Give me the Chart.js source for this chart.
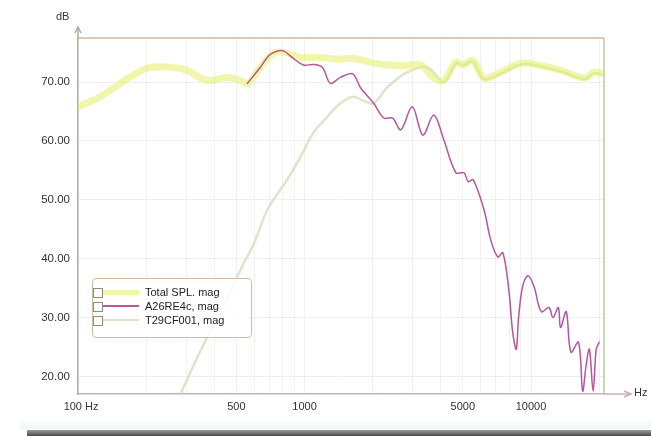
<!DOCTYPE html>
<html>
<head>
<meta charset="utf-8">
<script src="https://cdn.jsdelivr.net/npm/chart.js@4.4.1/dist/chart.umd.min.js"></script>
<style>
  body { margin: 0; background: #fff; }
  #wrap { position: relative; width: 651px; height: 436px; overflow: hidden; }
  #legend {
    position: absolute; left: 92px; top: 278px; width: 158px; height: 58px;
    border: 1px solid #cdbda6; border-radius: 4px; background: rgba(255,255,255,0.85);
    font: 11px "Liberation Sans", Arial, sans-serif; color: #222;
  }
  .item { position: absolute; left: 0; height: 14px; }
  .box { position: absolute; left: 0; top: 2px; width: 8px; height: 8px; border: 1px solid #9a8a7a; background: #fff; }
  .swatch { position: absolute; left: 10px; width: 36px; }
  .txt { position: absolute; left: 52px; top: 0; white-space: nowrap; }
  #scan1 { position: absolute; left: 20px; top: 420px; width: 631px; height: 9px; background: linear-gradient(#fafefe, #eef6f6); }
  #scan2 { position: absolute; left: 27px; top: 430px; width: 624px; height: 6px; background: linear-gradient(#9a9a9a, #4a4a4a); }
</style>
</head>
<body>
<div id="wrap">
  <canvas id="chart" width="651" height="436"></canvas>
  <div id="legend"></div>
  <div id="scan1"></div>
  <div id="scan2"></div>
</div>
<script>
'use strict';

// ── Data ─────────────────────────────────────────────────────────────────────
const seriesNames = ['Total SPL. mag', 'A26RE4c, mag', 'T29CF001, mag'];

const totalFreq = [100, 125, 150, 175, 208, 263, 303, 372, 456, 520, 565, 637, 730, 808, 960,
  1175, 1400, 1650, 2000, 2330, 2800, 3260, 3720, 4120, 4660, 5000, 5530, 6200, 7360, 9030,
  10700, 13580, 17180, 19000, 20500];
const totalDb = [65.8, 67.5, 69.5, 71.2, 72.5, 72.5, 72.0, 70.3, 70.8, 70.3, 69.8, 72.5, 74.9, 75.1, 74.2,
  74.2, 73.9, 74.0, 73.3, 72.9, 72.8, 72.9, 70.7, 70.3, 73.4, 72.9, 73.7, 70.7, 71.7, 73.2,
  72.9, 72.0, 70.7, 71.7, 71.5];

const wooferFreq = [560, 637, 700, 760, 808, 895, 990, 1095, 1200, 1300, 1440, 1630, 1770, 2020,
  2240, 2450, 2660, 2990, 3330, 3720, 4120, 4660, 5060, 5280, 5560, 6200, 6640, 7130, 7510, 7980,
  8300, 8610, 8800, 9180, 9700, 10300, 11100, 12000, 12500, 13200, 13500, 14300, 15000, 16200,
  16900, 17500, 18100, 18800, 19400, 20000];
const wooferDb = [69.8, 72.5, 74.6, 75.3, 75.3, 74.0, 72.9, 73.0, 72.5, 69.8, 70.8, 71.4, 69.0, 66.4,
  63.9, 63.9, 61.9, 65.8, 61.0, 64.4, 60.2, 54.6, 54.6, 53.1, 53.4, 48.3, 43.2, 40.3, 41.0, 34.7,
  27.5, 24.6, 29.7, 35.3, 37.1, 35.3, 31.0, 31.7, 30.0, 31.7, 28.3, 31.0, 24.1, 25.8,
  17.5, 21.8, 24.6, 17.5, 24.6, 25.8];

const tweeterFreq = [285, 340, 400, 455, 520, 600, 685, 760, 838, 960, 1095, 1260, 1440, 1640, 1830,
  2020, 2330, 2850, 3500, 4120, 4660, 5000, 5530, 6200, 7360, 9030, 10700, 13580, 17180, 19000, 20500];
const tweeterDb = [17.2, 23.6, 29.0, 33.0, 38.0, 42.7, 48.3, 51.0, 53.4, 57.3, 61.4, 64.1, 66.4, 67.5, 66.8,
  66.4, 69.2, 71.7, 72.5, 70.0, 73.2, 72.8, 73.5, 70.5, 71.5, 73.0, 72.8, 71.8, 70.5, 71.5, 71.3];

const xLabelTicks = [100, 500, 1000, 5000, 10000];
const xGridTicks = [100, 200, 300, 400, 500, 600, 700, 800, 900, 1000, 2000, 3000, 4000, 5000,
  6000, 7000, 8000, 9000, 10000, 20000];
const yTicks = [20, 30, 40, 50, 60, 70];

const seriesColors = ['rgba(228,240,105,0.55)', '#b9559c', 'rgba(208,218,180,0.7)'];
const seriesWidths = [7, 1.5, 2.5];

// ── Helpers ──────────────────────────────────────────────────────────────────
function toPoints(freqs, dbs) {
  return freqs.map((f, i) => ({ x: f, y: dbs[i] }));
}

function fmtDb(v) {
  return v.toFixed(2);
}

// frame, arrows and unit labels drawn around the plot area
const framePlugin = {
  id: 'frame',
  afterDraw(chart) {
    const { ctx, chartArea: a } = chart;
    ctx.save();
    ctx.lineWidth = 1.5;
    ctx.strokeStyle = '#cbb8a6';
    ctx.beginPath(); ctx.moveTo(a.left, a.top); ctx.lineTo(a.right, a.top); ctx.stroke();
    ctx.strokeStyle = '#b6cc9e';
    ctx.beginPath(); ctx.moveTo(a.right, a.top); ctx.lineTo(a.right, a.bottom); ctx.stroke();
    // x axis extension + arrow
    ctx.strokeStyle = '#c9afb0';
    ctx.beginPath(); ctx.moveTo(a.right, a.bottom); ctx.lineTo(a.right + 26, a.bottom); ctx.stroke();
    ctx.beginPath();
    ctx.moveTo(a.right + 20, a.bottom - 3); ctx.lineTo(a.right + 27, a.bottom); ctx.lineTo(a.right + 20, a.bottom + 3);
    ctx.stroke();
    // y axis extension + arrow
    ctx.strokeStyle = '#bfa993';
    ctx.beginPath(); ctx.moveTo(a.left, a.top); ctx.lineTo(a.left, a.top - 10); ctx.stroke();
    ctx.beginPath();
    ctx.moveTo(a.left - 3, a.top - 5); ctx.lineTo(a.left, a.top - 11); ctx.lineTo(a.left + 3, a.top - 5);
    ctx.stroke();
    ctx.fillStyle = '#333';
    ctx.font = '11px "Liberation Sans", Arial, sans-serif';
    ctx.textBaseline = 'middle';
    ctx.textAlign = 'left';
    ctx.fillText('dB', 56, 17);
    ctx.fillText('Hz', 634, a.bottom - 1);
    ctx.restore();
  },
};

// ── Chart setup ──────────────────────────────────────────────────────────────
const ctx = document.getElementById('chart').getContext('2d');

const datasets = [
  { freq: totalFreq, db: totalDb, order: 1 },
  { freq: wooferFreq, db: wooferDb, order: 0 },
  { freq: tweeterFreq, db: tweeterDb, order: 2 },
].map((s, i) => ({
  label: seriesNames[i],
  data: toPoints(s.freq, s.db),
  borderColor: seriesColors[i],
  borderWidth: seriesWidths[i],
  pointRadius: 0,
  tension: 0.35,
  fill: false,
  order: s.order,
  borderCapStyle: 'round',
  borderJoinStyle: 'round',
}));

new Chart(ctx, {
  type: 'line',
  data: { datasets },
  plugins: [framePlugin],
  options: {
    responsive: false,
    animation: false,
    layout: { padding: { left: 0, top: 38, right: 47, bottom: 0 } },
    plugins: { legend: { display: false }, tooltip: { enabled: false } },
    scales: {
      x: {
        type: 'logarithmic',
        min: 100,
        max: 21000,
        afterBuildTicks: axis => { axis.ticks = xGridTicks.map(v => ({ value: v })); },
        afterFit: axis => { axis.height = 42; },
        ticks: {
          autoSkip: false,
          maxRotation: 0,
          padding: 6,
          color: '#333',
          font: { size: 11, family: '"Liberation Sans", Arial, sans-serif' },
          callback: v => (xLabelTicks.includes(v) ? (v === 100 ? '  100 Hz' : String(v)) : ''),
        },
        grid: { color: '#f1f1ee', drawTicks: false },
        border: { color: '#c9afb0', width: 1.5 },
      },
      y: {
        min: 17,
        max: 77.5,
        afterBuildTicks: axis => { axis.ticks = yTicks.map(v => ({ value: v })); },
        afterFit: axis => { axis.width = 78; },
        ticks: {
          padding: 8,
          color: '#333',
          font: { size: 11.5, family: '"Liberation Sans", Arial, sans-serif' },
          callback: v => fmtDb(v),
        },
        grid: { color: '#efefef', drawTicks: false },
        border: { color: '#bfa993', width: 1.5 },
      },
    },
  },
});

// ── Legend (HTML overlay) ────────────────────────────────────────────────────
const legendEl = document.getElementById('legend');
seriesNames.forEach((name, i) => {
  const row = document.createElement('div');
  row.className = 'item';
  row.style.top = (7 + i * 14) + 'px';
  const h = Math.max(1.5, i === 0 ? 5 : seriesWidths[i]);
  row.innerHTML =
    `<span class="swatch" style="top:${6 - h / 2}px;height:${h}px;background:${seriesColors[i]}"></span>` +
    `<span class="box"></span><span class="txt">${name}</span>`;
  legendEl.appendChild(row);
});
</script>
</body>
</html>
